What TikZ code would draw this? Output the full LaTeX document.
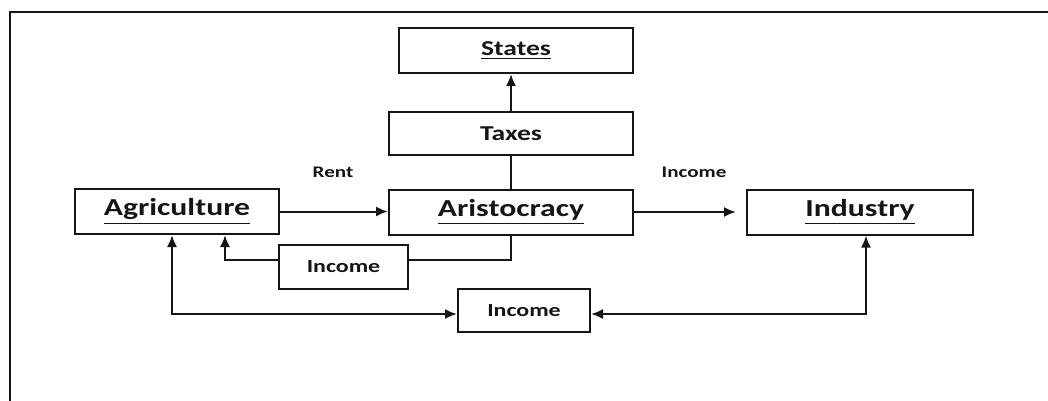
\documentclass[tikz,border=0pt]{standalone}
\usepackage{fontspec}
\setmainfont{Carlito}[FakeStretch=1.3]
\usetikzlibrary{arrows.meta}
\definecolor{FlowInk}{HTML}{151515}

\begin{document}
\begin{tikzpicture}[x=0.5pt,y=-0.5pt,
  box/.style={draw=FlowInk,line width=1pt,inner sep=0pt,align=center,text=FlowInk},
  bigtext/.style={font=\bfseries\fontsize{12.2}{14}\selectfont},
  midtext/.style={font=\bfseries\fontsize{10.6}{12}\selectfont},
  smalltext/.style={font=\bfseries\fontsize{9.2}{11}\selectfont},
  tinytext/.style={font=\bfseries\fontsize{8.1}{10}\selectfont,text=FlowInk},
  link/.style={draw=FlowInk,line width=1pt},
  flow/.style={link,-{Latex[length=6pt,width=5pt]}},
  bothflow/.style={link,{Latex[length=6pt,width=5pt]}-{Latex[length=6pt,width=5pt]}}]
\path[use as bounding box] (0,0) rectangle (1048,401);
\draw[FlowInk,line width=0.75pt] (10,401) -- (10,12) -- (1048,12);
\node[box,midtext,minimum width=117pt,minimum height=22.5pt] (states) at (516,50.5) {\underline{States}};
\node[box,midtext,minimum width=122pt,minimum height=21.5pt] (taxes) at (511,133.5) {Taxes};
\node[box,bigtext,minimum width=102pt,minimum height=22.5pt] (agri) at (177,211.5) {\underline{Agriculture}};
\node[box,bigtext,minimum width=122pt,minimum height=22.5pt] (aris) at (511,212) {\underline{Aristocracy}};
\node[box,bigtext,minimum width=113pt,minimum height=22.5pt] (ind) at (860,212) {\underline{Industry}};
\node[box,smalltext,minimum width=64.5pt,minimum height=22pt] (incsmall) at (343.5,267) {Income};
\node[box,smalltext,minimum width=66pt,minimum height=21.5pt] (incbottom) at (524,310.5) {Income};
\node[tinytext] (rent) at (333,172) {Rent};
\node[tinytext] (incup) at (694,172) {Income};
\draw[flow] (agri.east) -- (agri.east -| aris.west);
\draw[flow,shorten >=5pt] (aris.east) -- (ind.west);
\draw[link] (aris.north) -- (taxes.south);
\draw[flow] (taxes.north) -- (taxes.north |- states.south);
\draw[link] (aris.south) |- ([yshift=3.5pt]incsmall.east);
\draw[flow] ([yshift=3.5pt]incsmall.west) -| ([xshift=24pt]agri.south);
\draw[bothflow] ([xshift=-2.5pt]agri.south) |- ([yshift=-1.75pt]incbottom.west);
\draw[bothflow] ([xshift=3pt]ind.south) |- ([yshift=-1.75pt]incbottom.east);
\end{tikzpicture}
\end{document}
